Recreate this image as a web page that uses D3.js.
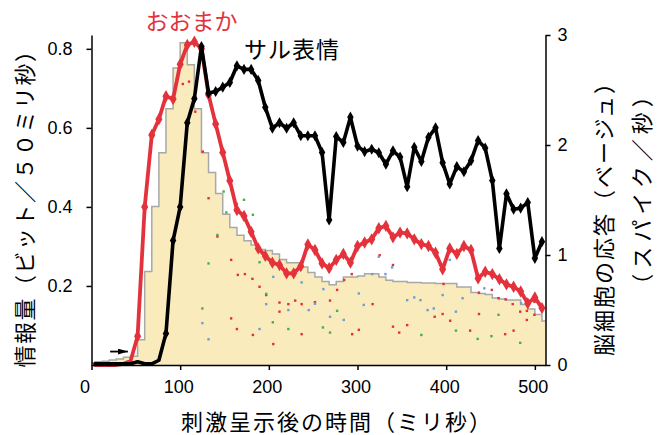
<!DOCTYPE html>
<html>
<head>
<meta charset="utf-8">
<script src="https://cdn.jsdelivr.net/npm/d3@7"></script>
<style>
  body { margin: 0; background: #fff; }
  svg { display: block; }
  .tick text { font-family: "Liberation Sans", Arial, sans-serif; font-size: 18px; fill: #000; }
  .title { font-family: "Noto Sans CJK JP", sans-serif; font-size: 22px; fill: #000; }
</style>
</head>
<body>
<div id="chart"></div>
<script>
// histogram of cell response (spikes/s, right axis), one value every 8 ms
const histTimes = d3.range(0, 513, 8)
const histValues = [
  0.02, 0.03, 0.035, 0.045, 0.055, 0.07, 0.08, 0.23, 0.85, 1.44, 1.93, 2.33, 2.70, 2.93, 2.73, 2.33, 1.93,
  1.75, 1.56, 1.37, 1.25, 1.18, 1.13, 1.09, 1.05, 1.04, 1.01, 0.96, 0.93, 0.93, 0.89, 0.84, 0.80,
  0.76, 0.73, 0.76, 0.80, 0.80, 0.81, 0.83, 0.83, 0.80, 0.77, 0.76, 0.76, 0.75, 0.75, 0.745, 0.745,
  0.74, 0.74, 0.74, 0.71, 0.71, 0.66, 0.65, 0.64, 0.61, 0.60, 0.59, 0.59, 0.55, 0.51, 0.46, 0.40
]

// information curves (bits / 50 ms, left axis)
const lineTimes = d3.range(4, 512, 8)
const coarseValues = [ // おおまか
  0.0, 0.0, 0.0, 0.0, 0.003, 0.01, 0.073, 0.40, 0.582, 0.622, 0.68, 0.673, 0.761, 0.81, 0.818, 0.80,
  0.684, 0.61, 0.538, 0.466, 0.392, 0.377, 0.337, 0.295, 0.276, 0.259, 0.253, 0.232, 0.232, 0.25, 0.305, 0.291,
  0.257, 0.245, 0.266, 0.281, 0.259, 0.301, 0.31, 0.318, 0.346, 0.352, 0.323, 0.335, 0.333, 0.318, 0.306, 0.301,
  0.284, 0.242, 0.295, 0.281, 0.301, 0.291, 0.219, 0.236, 0.23, 0.217, 0.204, 0.198, 0.186, 0.156, 0.171, 0.144
]
const faceValues = [ // サル表情
  0.003, 0.003, 0.003, 0.003, 0.003, 0.003, 0.008, 0.003, 0.003, 0.012, 0.08, 0.315, 0.40, 0.613, 0.674, 0.806,
  0.688, 0.692, 0.703, 0.715, 0.757, 0.748, 0.748, 0.72, 0.652, 0.599, 0.613, 0.599, 0.613, 0.58, 0.58, 0.58,
  0.538, 0.367, 0.578, 0.563, 0.627, 0.554, 0.54, 0.546, 0.537, 0.508, 0.542, 0.526, 0.451, 0.551, 0.515, 0.576,
  0.600, 0.512, 0.458, 0.502, 0.489, 0.517, 0.568, 0.549, 0.467, 0.295, 0.433, 0.394, 0.397, 0.411, 0.27, 0.312
]

// scattered single-condition points [ms, bits]
const redDots = [
  [103, 0.711], [110, 0.717], [117, 0.641], [125.5, 0.54], [132, 0.422], [142, 0.325], [157.5, 0.266], [165, 0.228],
  [173, 0.23], [181.5, 0.218], [189.5, 0.198], [197, 0.177], [212, 0.158], [222, 0.154], [229.7, 0.163], [237, 0.154],
  [252, 0.159], [212, 0.135], [157.5, 0.118], [164, 0.091], [182, 0.076], [205, 0.053], [237, 0.078], [269, 0.163],
  [277, 0.19], [285, 0.215], [293.5, 0.23], [294, 0.078], [301.5, 0.089], [317, 0.154], [325, 0.278], [340, 0.253],
  [340, 0.097], [347, 0.082], [356, 0.101], [387, 0.122], [396, 0.129], [397, 0.205], [404.5, 0.112], [427, 0.087],
  [437, 0.129], [437, 0.183], [451.5, 0.19], [459, 0.169], [467, 0.166], [466.5, 0.078], [475, 0.154], [476, 0.087],
  [483.5, 0.135], [491, 0.137], [491, 0.114], [499.5, 0.16], [499.5, 0.127]
]
const greenDots = [
  [132, 0.257], [125, 0.143], [149, 0.439], [157.5, 0.443], [164, 0.408], [172, 0.418], [182, 0.38], [152, 0.386],
  [142, 0.329], [189.5, 0.26], [197, 0.18], [204.5, 0.108], [222, 0.091], [261, 0.095], [269, 0.082], [277, 0.137],
  [372, 0.076], [411, 0.087], [435.5, 0.066], [451, 0.073], [459, 0.127], [483.5, 0.056]
]
const blueDots = [
  [125, 0.106], [132, 0.065], [189.5, 0.091], [205, 0.223], [197, 0.154], [222, 0.139], [229, 0.228], [237, 0.209],
  [245, 0.139], [252, 0.155], [261.5, 0.192], [269, 0.122], [284.5, 0.114], [301.5, 0.181], [307, 0.152], [316.5, 0.23],
  [324, 0.274], [331.5, 0.23], [339, 0.247], [356, 0.164], [364, 0.171], [371, 0.164], [379, 0.139], [386, 0.143],
  [396, 0.177], [404, 0.266], [411, 0.135], [418.5, 0.169], [443, 0.194], [484.5, 0.156]
]

const xTicks = [0, 100, 200, 300, 400, 500]
const leftTicks = [0.2, 0.4, 0.6, 0.8]
const rightTicks = [0, 1, 2, 3]

const width = 666, height = 435
const margin = { top: 35, right: 120.5, bottom: 70, left: 91.5 }
const red = '#e4323c'

const svg = d3.select('#chart').append('svg')
  .attr('width', width)
  .attr('height', height)

const x = d3.scaleLinear().domain([0, 512]).range([margin.left, width - margin.right])
const yL = d3.scaleLinear().domain([0, 0.835]).range([height - margin.bottom, margin.top])
const yR = d3.scaleLinear().domain([0, 3]).range([height - margin.bottom, margin.top])

// beige histogram
const hist = histTimes.map((t, i) => ({ t, v: histValues[i] }))
svg.append('path')
  .datum(hist)
  .attr('fill', '#faebbd')
  .attr('d', d3.area().curve(d3.curveStep).x(d => x(d.t)).y0(yR(0)).y1(d => yR(d.v)))
svg.append('path')
  .datum(hist)
  .attr('fill', 'none')
  .attr('stroke', '#a8a8a8')
  .attr('stroke-width', 1.5)
  .attr('d', d3.line().curve(d3.curveStep).x(d => x(d.t)).y(d => yR(d.v)))

// tiny dots
const dotSets = [[redDots, '#e0303a'], [greenDots, '#45b04a'], [blueDots, '#6b9fd8']]
dotSets.forEach(([dots, color]) => {
  svg.append('g').selectAll('rect')
    .data(dots)
    .join('rect')
    .attr('x', d => x(d[0]) - 1.2)
    .attr('y', d => yL(d[1]) - 1.2)
    .attr('width', 2.4)
    .attr('height', 2.4)
    .attr('fill', color)
})

function drawSeries(values, color, markerSize, lineWidth) {
  const data = lineTimes.map((t, i) => ({ t, v: values[i] }))
  svg.append('path')
    .datum(data)
    .attr('fill', 'none')
    .attr('stroke', color)
    .attr('stroke-width', lineWidth)
    .attr('stroke-linejoin', 'round')
    .attr('stroke-linecap', 'round')
    .attr('d', d3.line().x(d => x(d.t)).y(d => yL(d.v)))
  svg.append('g').selectAll('path')
    .data(data.filter(d => d.v > 0.03))
    .join('path')
    .attr('transform', d => `translate(${x(d.t)},${yL(d.v)})`)
    .attr('d', d3.symbol(d3.symbolDiamond, markerSize))
    .attr('fill', color)
}
drawSeries(coarseValues, red, 44, 3.8)
drawSeries(faceValues, '#000', 36, 3.6)

// onset arrow
svg.append('defs').append('marker')
  .attr('id', 'head')
  .attr('viewBox', '0 0 10 6')
  .attr('refX', 10).attr('refY', 3)
  .attr('markerWidth', 10).attr('markerHeight', 6)
  .attr('markerUnits', 'userSpaceOnUse')
  .attr('orient', 'auto')
  .append('path').attr('d', 'M0,0L10,3L0,6Z').attr('fill', '#000')
svg.append('line')
  .attr('x1', x(21)).attr('x2', x(41))
  .attr('y1', yL(0.034)).attr('y2', yL(0.034))
  .attr('stroke', '#000')
  .attr('stroke-width', 1.8)
  .attr('marker-end', 'url(#head)')

// axes
const xAxis = svg.append('g')
  .attr('transform', `translate(0,${height - margin.bottom})`)
  .call(d3.axisBottom(x).tickValues(xTicks).tickSize(5).tickSizeOuter(0).tickPadding(10))
xAxis.selectAll('.tick text').attr('dx', t => t === 0 ? -7 : -2)

svg.append('g')
  .attr('transform', `translate(${margin.left},0)`)
  .call(d3.axisLeft(yL).tickValues(leftTicks).tickFormat(d3.format('.1f')).tickSize(5).tickSizeOuter(0).tickPadding(14))

svg.append('g')
  .attr('transform', `translate(${width - margin.right},0)`)
  .call(d3.axisRight(yR).tickValues(rightTicks).tickFormat(d3.format('d')).tickSize(5).tickSizeOuter(0).tickPadding(7))

svg.selectAll('.domain, .tick line').attr('stroke', '#000').attr('stroke-width', 1.5)

// axis titles
svg.append('text').attr('class', 'title')
  .attr('x', 337).attr('y', 420)
  .attr('text-anchor', 'middle').attr('dominant-baseline', 'central')
  .style('letter-spacing', '2px')
  .text('刺激呈示後の時間（ミリ秒）')
svg.append('text').attr('class', 'title')
  .attr('transform', 'translate(23,203) rotate(-90)')
  .attr('text-anchor', 'middle').attr('dominant-baseline', 'central')
  .style('letter-spacing', '1.5px')
  .text('情報量（ビット／５０ミリ秒）')
svg.append('text').attr('class', 'title')
  .attr('transform', 'translate(602,213) rotate(-90)')
  .attr('text-anchor', 'middle').attr('dominant-baseline', 'central')
  .style('letter-spacing', '2px')
  .text('脳細胞の応答（ベージュ）')
svg.append('text').attr('class', 'title')
  .attr('transform', 'translate(640,188) rotate(-90)')
  .attr('text-anchor', 'middle').attr('dominant-baseline', 'central')
  .style('letter-spacing', '5px')
  .text('（スパイク／秒）')

// series labels
svg.append('text').attr('class', 'title')
  .attr('x', x(61)).attr('y', 20)
  .attr('dominant-baseline', 'central')
  .style('font-size', '23px')
  .style('fill', red)
  .text('おおまか')
svg.append('text').attr('class', 'title')
  .attr('x', x(172)).attr('y', 48)
  .attr('dominant-baseline', 'central')
  .style('font-size', '23px')
  .style('letter-spacing', '1px')
  .text('サル表情')
</script>
</body>
</html>
